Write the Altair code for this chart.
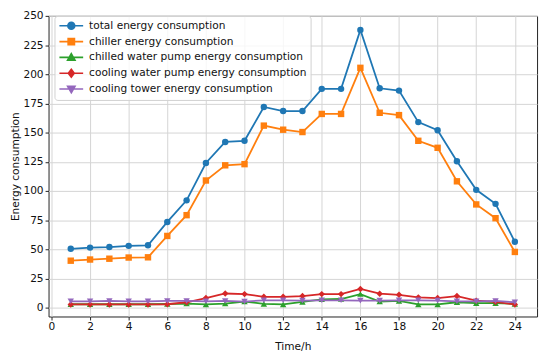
import altair as alt
import pandas as pd

hours = list(range(1, 25))
series_names = [
    "total energy consumption",
    "chiller energy consumption",
    "chilled water pump energy consumption",
    "cooling water pump energy consumption",
    "cooling tower energy consumption",
]
total = [50.5, 51.5, 52, 53, 53.5, 73.5, 92, 124, 142, 143, 172, 168.5, 168.5,
         187.5, 187.5, 238, 188, 186, 159, 152, 125.5, 101, 89, 56.5]
chiller = [40.3, 41.3, 42, 43, 43.2, 61.5, 79.3, 109, 122, 123, 156, 152.5, 150.5,
           166, 166, 205.5, 167, 165, 143, 137, 108.3, 88.5, 76.7, 47.8]
chilled_pump = [3, 3, 3, 3, 3, 3.2, 3.6, 2.8, 3.6, 5.3, 3.3, 2.8, 5,
                7.2, 7.5, 11.7, 5.3, 5.8, 2.8, 2.8, 4.7, 3.9, 3.9, 3.3]
cooling_pump = [2.8, 2.8, 2.8, 2.8, 2.8, 3, 4.7, 8.3, 12.2, 11.7, 9.4, 9.4, 10,
                11.7, 11.7, 16.1, 12, 11.1, 8.9, 8.3, 10, 6.1, 5, 2.8]
tower = [5.5, 5.5, 5.8, 5.5, 5.5, 5.8, 5.8, 5.5, 5.8, 5.3, 6.4, 6.4, 6.1,
         6.4, 6.4, 6.1, 6.1, 6.4, 6.4, 6.1, 5.5, 5.5, 5.8, 4.7]
values = [total, chiller, chilled_pump, cooling_pump, tower]
colors = ["#1f77b4", "#ff7f0e", "#2ca02c", "#d62728", "#9467bd"]
shapes = ["circle", "square", "triangle-up", "diamond", "triangle-down"]
legend_paths = [
    "M-1,0H3.8M0.7,0A0.7,0.7,0,1,0,2.1,0A0.7,0.7,0,1,0,0.7,0Z",
    "M-1,0H3.8M0.76,-0.64H2.04V0.64H0.76Z",
    "M-1,0H3.8M1.4,-0.75L2.15,0.55L0.65,0.55Z",
    "M-1,0H3.8M1.4,-0.8L2.0,0L1.4,0.8L0.8,0Z",
    "M-1,0H3.8M1.4,0.75L2.15,-0.55L0.65,-0.55Z",
]

rows = []
for name, vals in zip(series_names, values):
    for h, v in zip(hours, vals):
        rows.append({"hour": h, "value": v, "series": name})
df = pd.DataFrame(rows)

FONT = "DejaVu Sans"
FS = 10.7

x_enc = alt.X("hour:Q", scale=alt.Scale(domain=[-0.15, 25.15], nice=False, zero=False),
              axis=alt.Axis(values=list(range(0, 25, 2)), title="Time/h", format="d"))
y_enc = alt.Y("value:Q", scale=alt.Scale(domain=[-7.5, 250], nice=False, zero=False),
              axis=alt.Axis(values=list(range(0, 251, 25)), title="Energy consumption"))

base = alt.Chart(df)
layers = []
for name, shp, col in zip(series_names, shapes, colors):
    sub = base.transform_filter(alt.datum.series == name)
    layers.append(sub.mark_line(strokeWidth=1.8, color=col).encode(x=x_enc, y=y_enc))
    layers.append(sub.mark_point(filled=True, opacity=1, size=42, shape=shp, color=col)
                  .encode(x=x_enc, y=y_enc))

leg = alt.Legend(
    title=None, orient="none", legendX=6, legendY=0, padding=4,
    symbolSize=100, symbolOpacity=1, symbolStrokeWidth=1.6,
    labelOffset=19, rowPadding=2.0,
    labelFont=FONT, labelFontSize=FS, labelColor="#111", labelLimit=400,
    strokeColor="#d0d0d0", fillColor="rgba(255,255,255,0.8)", cornerRadius=3,
)
hidden = base.mark_point(filled=True, opacity=1, size=0).encode(
    x=x_enc, y=y_enc,
    color=alt.Color("series:N", scale=alt.Scale(domain=series_names, range=colors), legend=leg),
    stroke=alt.Stroke("series:N", scale=alt.Scale(domain=series_names, range=colors), legend=leg),
    shape=alt.Shape("series:N", scale=alt.Scale(domain=series_names, range=legend_paths),
                    legend=leg),
)

chart = alt.layer(*layers, hidden).properties(
    width=494, height=304,
    autosize=alt.AutoSizeParams(type="none"),
    padding={"left": 41, "top": 6, "right": 5, "bottom": 40},
).configure_view(
    stroke="#222", strokeWidth=1
).configure_axis(
    domain=False, grid=True, gridColor="#d4d4d4", gridWidth=1,
    tickColor="#222", tickSize=3.5, labelFont=FONT, labelFontSize=FS, labelColor="#111",
    titleFont=FONT, titleFontSize=FS, titleColor="#111", titleFontWeight="normal",
    labelPadding=2,
).configure_axisX(titlePadding=10).configure_axisY(titlePadding=2)

chart.save("out.html", embed_options={"renderer": "svg", "actions": False})
